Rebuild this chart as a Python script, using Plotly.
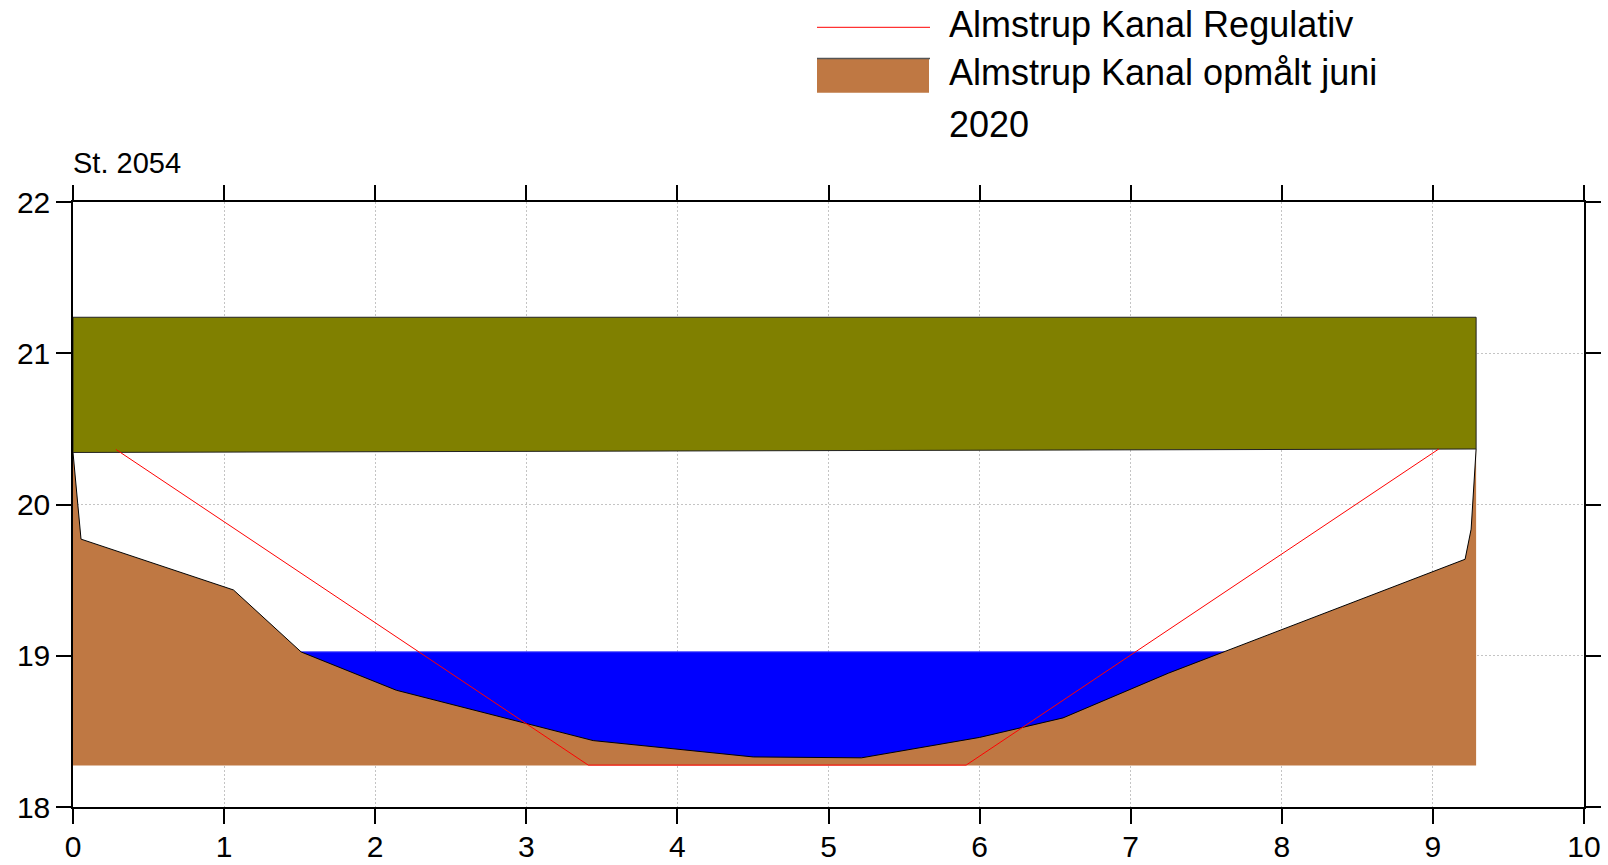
import plotly.graph_objects as go
import numpy as np

# ---------------- data ----------------
terrain_x = [0.0, 0.053, 1.062, 1.51, 2.14, 3.443, 4.502, 5.218, 6.0, 6.552, 7.25, 9.213, 9.253, 9.286]
terrain_y = [20.344, 19.771, 19.435, 19.025, 18.772, 18.439, 18.331, 18.325, 18.46, 18.589, 18.885, 19.638, 19.837, 20.367]
terrain_base = 18.274

regulativ_x = [0.284, 3.41, 5.911, 9.039]
regulativ_y = [20.364, 18.277, 18.277, 20.367]

water_level = 19.026
water_x = [1.51, 7.62]

olive_x = [0.0, 9.286]
olive_bottom = [20.344, 20.367]
olive_top = 21.238

x_ticks = list(range(0, 11))
y_ticks = [18, 19, 20, 21, 22]

station_label = "St. 2054"
name_regulativ = "Almstrup Kanal Regulativ"
name_terrain_l1 = "Almstrup Kanal opmålt juni"
name_terrain_l2 = "2020"

BROWN = "#BF7843"
OLIVE = "#808000"
FONT = "Liberation Sans, Arial, sans-serif"

# ---------------- figure ----------------
W, H = 1608, 865
L, R, T, B = 73, 24, 202, 58
PW, PH = W - L - R, H - T - B


def px2x(px):
    return (px - L) / PW


def py2y(py):
    return (H - B - py) / PH


fig = go.Figure()

# water (drawn first, terrain covers below bed)
fig.add_trace(go.Scatter(
    x=[water_x[0], water_x[1], water_x[1], water_x[0], water_x[0]],
    y=[water_level, water_level, terrain_base + 0.05, terrain_base + 0.05, water_level],
    fill="toself", fillcolor="#0000FF", mode="lines",
    line=dict(color="#0000FF", width=0), showlegend=False, hoverinfo="skip"))
fig.add_trace(go.Scatter(
    x=water_x, y=[water_level, water_level], mode="lines",
    line=dict(color="#4a4aff", width=1), showlegend=False, hoverinfo="skip"))

# terrain base + terrain fill
fig.add_trace(go.Scatter(
    x=terrain_x, y=[terrain_base] * len(terrain_x), mode="lines",
    line=dict(width=0, color=BROWN), showlegend=False, hoverinfo="skip"))
fig.add_trace(go.Scatter(
    x=terrain_x, y=terrain_y, mode="lines", fill="tonexty", fillcolor=BROWN,
    line=dict(color="black", width=1), name=name_terrain_l1 + " " + name_terrain_l2,
    showlegend=False))

# olive band
fig.add_trace(go.Scatter(
    x=[olive_x[0], olive_x[1], olive_x[1], olive_x[0], olive_x[0]],
    y=[olive_bottom[0], olive_bottom[1], olive_top, olive_top, olive_bottom[0]],
    fill="toself", fillcolor=OLIVE, mode="lines",
    line=dict(color="#222222", width=1), showlegend=False, hoverinfo="skip"))

# regulativ
fig.add_trace(go.Scatter(
    x=regulativ_x, y=regulativ_y, mode="lines",
    line=dict(color="#FF0000", width=1), name=name_regulativ, showlegend=False))

axis_common = dict(
    showline=True, linecolor="black", linewidth=1.5, mirror="ticks",
    ticks="outside", ticklen=15, tickwidth=1.5, tickcolor="black",
    showgrid=True, gridcolor="#c4c4c4", gridwidth=1, griddash="2px,2px",
    zeroline=False, tickfont=dict(family=FONT, size=30, color="black"),
)

fig.update_xaxes(range=[0, 10], tickmode="array", tickvals=x_ticks,
                 ticktext=[str(v) for v in x_ticks], ticklabelstandoff=-3, **axis_common)
fig.update_yaxes(range=[18, 22], tickmode="array", tickvals=y_ticks,
                 ticktext=[str(v) for v in y_ticks], layer="below traces", **axis_common)

# custom legend
shapes = [
    dict(type="line", xref="paper", yref="paper", x0=px2x(817), x1=px2x(930),
         y0=py2y(27.3), y1=py2y(27.3), line=dict(color="#FF0000", width=1)),
    dict(type="rect", xref="paper", yref="paper", x0=px2x(817), x1=px2x(929),
         y0=py2y(92.7), y1=py2y(58.5), fillcolor=BROWN, line=dict(width=0)),
    dict(type="line", xref="paper", yref="paper", x0=px2x(817), x1=px2x(930),
         y0=py2y(58.5), y1=py2y(58.5), line=dict(color="#555555", width=1.5)),
]

annotations = [
    dict(text=station_label, xref="paper", yref="paper", x=px2x(71), y=py2y(163.4),
         xanchor="left", yanchor="middle", showarrow=False,
         font=dict(family=FONT, size=29, color="black")),
    dict(text=name_regulativ, xref="paper", yref="paper", x=px2x(947), y=py2y(24.7),
         xanchor="left", yanchor="middle", showarrow=False,
         font=dict(family=FONT, size=36, color="black")),
    dict(text=name_terrain_l1, xref="paper", yref="paper", x=px2x(947), y=py2y(72),
         xanchor="left", yanchor="middle", showarrow=False,
         font=dict(family=FONT, size=36, color="black")),
    dict(text=name_terrain_l2, xref="paper", yref="paper", x=px2x(947), y=py2y(124.7),
         xanchor="left", yanchor="middle", showarrow=False,
         font=dict(family=FONT, size=36, color="black")),
]

fig.update_layout(
    width=W, height=H, margin=dict(l=L, r=R, t=T, b=B, autoexpand=False),
    plot_bgcolor="white", paper_bgcolor="white", showlegend=False,
    shapes=shapes, annotations=annotations,
    font=dict(family=FONT, color="black"),
)

fig.write_html("out.html", config={"displayModeBar": False},
               post_script="document.body.style.margin='0';document.body.style.overflow='hidden';")
